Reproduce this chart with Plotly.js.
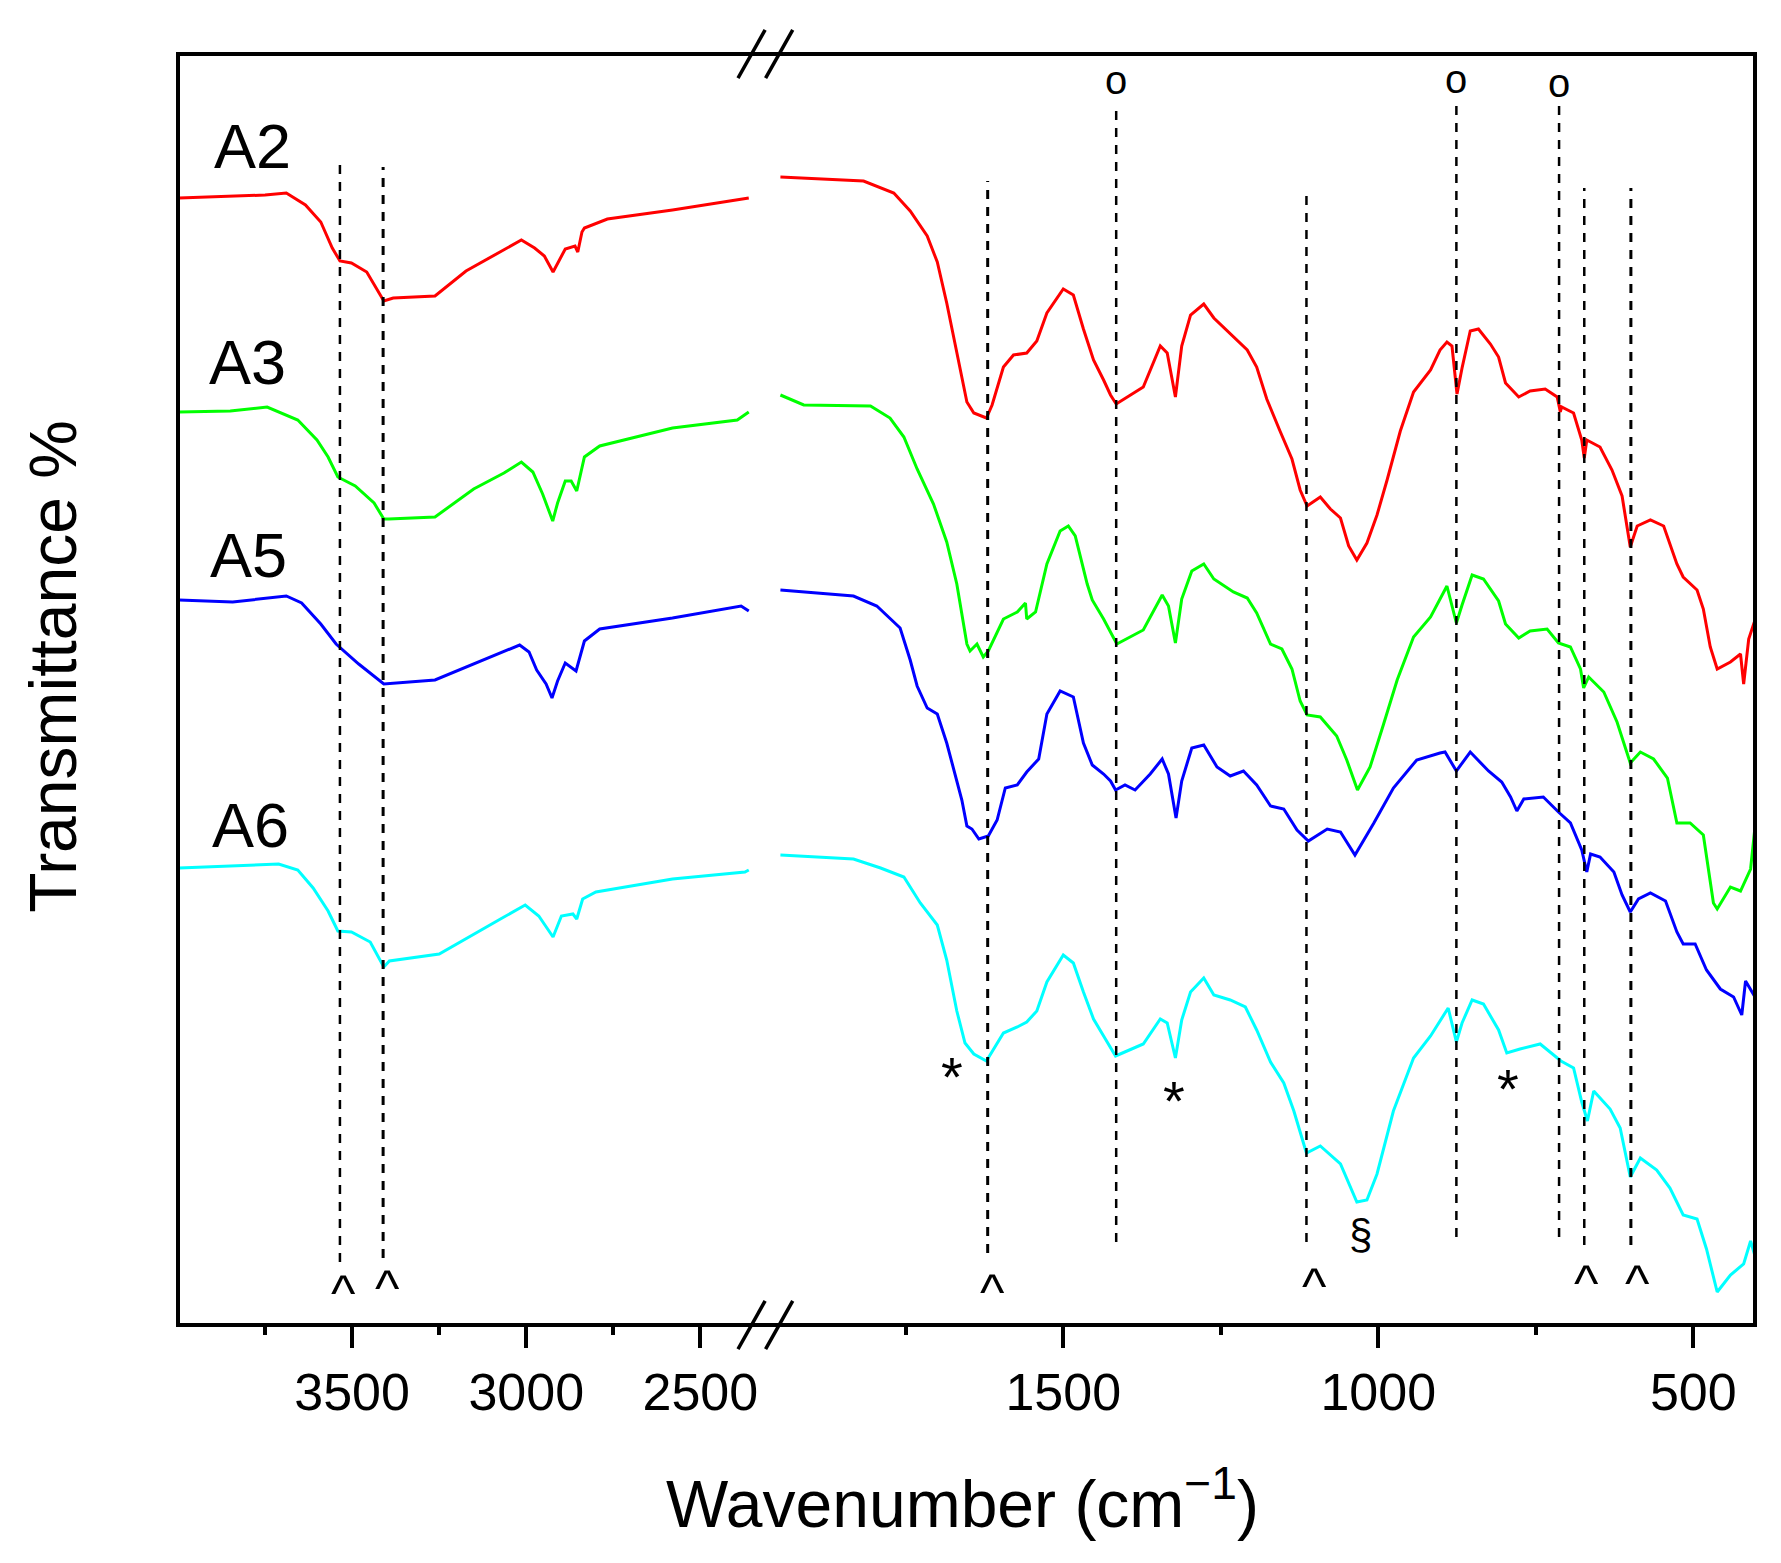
<!DOCTYPE html>
<html>
<head>
<meta charset="utf-8">
<script src="https://cdn.plot.ly/plotly-3.0.1.min.js"></script>
<style>
  body { margin: 0; background: #fff; }
  #ftir_plot { width: 1781px; height: 1563px; }
</style>
</head>
<body>
<div id="ftir_plot"></div>
<script>
// spectra, offset stacked (Transmittance %, arbitrary offset units)
let a2Wn = [3997, 3850, 3750, 3689, 3634, 3590, 3557, 3535, 3502, 3458, 3437, 3409, 3382, 3262, 3173, 3075, 3014, 2976, 2948, 2923, 2910, 2888, 2860, 2852, 2840, 2833, 2767, 2580, 2361,
    1949, 1817, 1769, 1743, 1716, 1700, 1685, 1669, 1653, 1642, 1622, 1613, 1595, 1579, 1558, 1542, 1526, 1500, 1484, 1468, 1452, 1436, 1425, 1416, 1394, 1373, 1346, 1335, 1322, 1312, 1298, 1277, 1261, 1235, 1208, 1193, 1177, 1156, 1137, 1124, 1113, 1092, 1076, 1060, 1047, 1034, 1018, 1002, 986, 965, 944, 917, 902, 891, 883, 875, 867, 854, 841, 822, 809, 798, 777, 759, 735, 716, 711, 709, 690, 677, 673, 669, 648, 629, 613, 600, 589, 568, 547, 526, 516, 494, 484, 473, 462, 441, 425, 420, 412, 402];
let a2T = [112.7, 112.9, 113.0, 113.2, 112.0, 110.3, 107.7, 106.4, 106.2, 105.3, 104.1, 102.4, 102.7, 102.9, 105.4, 107.3, 108.5, 107.7, 106.9, 105.3, 106.2, 107.6, 107.9, 107.3, 109.3, 109.7, 110.6, 111.5, 112.7,
    114.8, 114.4, 113.2, 111.4, 108.9, 106.3, 102.2, 97.1, 92.3, 91.2, 90.7, 92.0, 95.8, 97.0, 97.2, 98.4, 101.2, 103.6, 103.0, 99.6, 96.5, 94.5, 93.0, 92.1, 93.0, 93.8, 97.9, 97.2, 92.8, 97.9, 101.0, 102.1, 100.7, 99.1, 97.5, 95.8, 92.6, 89.4, 86.6, 83.5, 81.9, 82.8, 81.6, 80.7, 77.9, 76.5, 78.2, 81.0, 84.5, 89.4, 93.3, 95.5, 97.5, 98.3, 97.9, 93.1, 95.7, 99.4, 99.6, 98.1, 96.8, 94.2, 92.8, 93.4, 93.6, 92.8, 91.3, 91.8, 91.2, 88.5, 86.7, 88.5, 87.8, 85.5, 82.9, 77.8, 79.9, 80.5, 79.9, 76.1, 74.8, 73.5, 71.6, 67.8, 65.6, 66.3, 67.1, 64.1, 68.6, 70.5];

let a3Wn = [3997, 3850, 3744, 3656, 3601, 3569, 3541, 3491, 3437, 3409, 3395, 3262, 3151, 3064, 3014, 2981, 2953, 2937, 2924, 2910, 2888, 2871, 2855, 2833, 2789, 2580, 2394, 2361,
    1949, 1912, 1806, 1775, 1753, 1732, 1706, 1685, 1669, 1659, 1653, 1648, 1637, 1627, 1619, 1595, 1573, 1560, 1558, 1544, 1526, 1505, 1492, 1481, 1462, 1454, 1436, 1415, 1394, 1373, 1343, 1333, 1322, 1312, 1296, 1277, 1261, 1230, 1208, 1193, 1171, 1153, 1137, 1124, 1113, 1092, 1066, 1050, 1033, 1013, 992, 970, 944, 917, 891, 876, 867, 851, 833, 809, 798, 777, 759, 732, 714, 695, 679, 674, 666, 642, 621, 600, 584, 563, 541, 526, 505, 484, 468, 462, 441, 425, 409, 402];
let a3T = [91.3, 91.4, 91.8, 90.5, 88.5, 86.8, 84.8, 83.9, 82.2, 80.6, 80.6, 80.8, 83.6, 85.2, 86.3, 85.3, 83.1, 81.6, 80.4, 82.2, 84.4, 84.4, 83.4, 86.8, 87.9, 89.7, 90.5, 91.3,
    93.0, 92.0, 91.9, 90.7, 88.8, 85.6, 82.1, 78.3, 74.1, 70.3, 68.1, 67.4, 68.1, 66.8, 67.4, 70.6, 71.3, 72.2, 70.6, 71.3, 76.1, 79.4, 79.9, 78.9, 74.1, 72.5, 70.6, 68.1, 68.8, 69.5, 73.0, 71.9, 68.2, 72.6, 75.4, 76.1, 74.6, 73.3, 72.7, 71.2, 68.1, 67.6, 65.6, 62.4, 61.0, 60.8, 58.9, 56.5, 53.5, 55.8, 60.0, 64.5, 68.8, 70.8, 73.9, 70.2, 72.0, 75.0, 74.6, 72.4, 70.1, 68.7, 69.4, 69.6, 68.2, 67.8, 65.6, 63.7, 64.8, 63.3, 60.3, 56.2, 57.3, 56.6, 54.7, 50.2, 50.2, 49.0, 42.2, 41.6, 43.8, 43.4, 45.6, 49.8];

let a5Wn = [3997, 3843, 3689, 3645, 3590, 3546, 3481, 3409, 3262, 3151, 3019, 2992, 2970, 2943, 2926, 2910, 2888, 2857, 2833, 2789, 2580, 2383, 2361,
    1949, 1833, 1796, 1775, 1759, 1743, 1732, 1716, 1700, 1685, 1671, 1661, 1653, 1645, 1634, 1619, 1605, 1592, 1573, 1558, 1539, 1526, 1505, 1484, 1468, 1454, 1436, 1425, 1417, 1402, 1386, 1362, 1343, 1333, 1321, 1312, 1296, 1277, 1256, 1235, 1214, 1193, 1171, 1150, 1129, 1111, 1081, 1060, 1037, 1007, 976, 939, 902, 894, 876, 854, 825, 804, 790, 780, 769, 738, 714, 695, 677, 669, 663, 648, 626, 613, 600, 587, 568, 544, 526, 516, 497, 479, 457, 436, 423, 417, 402];
let a5T = [72.5, 72.3, 72.9, 72.2, 70.1, 68.1, 66.1, 64.1, 64.5, 66.1, 68.0, 67.3, 65.5, 64.1, 62.7, 64.4, 66.2, 65.4, 68.4, 69.6, 70.7, 71.9, 71.4,
    73.5, 72.9, 71.9, 70.6, 69.7, 66.5, 63.9, 61.7, 61.1, 58.2, 55.0, 52.5, 49.9, 49.6, 48.6, 48.9, 50.5, 53.7, 54.0, 55.3, 56.6, 61.1, 63.4, 62.8, 58.2, 56.0, 55.1, 54.4, 53.5, 54.0, 53.5, 55.1, 56.6, 55.1, 50.7, 54.4, 57.7, 58.0, 55.8, 54.9, 55.4, 54.0, 51.9, 51.6, 49.5, 48.4, 49.6, 49.3, 47.0, 50.2, 53.7, 56.5, 57.2, 57.3, 55.4, 57.3, 55.4, 54.3, 52.8, 51.4, 52.6, 52.8, 51.3, 50.2, 47.5, 45.3, 47.1, 46.8, 45.3, 43.0, 41.3, 42.6, 43.2, 42.4, 39.3, 38.1, 38.1, 35.5, 33.6, 32.8, 31.0, 34.4, 32.8];

let a6Wn = [3997, 3711, 3656, 3612, 3569, 3541, 3502, 3448, 3409, 3393, 3250, 3173, 3074, 3003, 2964, 2923, 2899, 2866, 2855, 2838, 2800, 2580, 2372, 2361,
    1949, 1833, 1790, 1753, 1727, 1700, 1685, 1669, 1656, 1642, 1622, 1595, 1573, 1558, 1542, 1526, 1500, 1484, 1468, 1452, 1436, 1417, 1373, 1346, 1335, 1322, 1312, 1298, 1277, 1261, 1235, 1211, 1193, 1171, 1150, 1134, 1114, 1092, 1060, 1034, 1018, 1002, 976, 944, 917, 889, 876, 867, 851, 833, 809, 796, 775, 743, 710, 690, 677, 668, 658, 632, 616, 600, 584, 558, 537, 516, 494, 479, 462, 441, 420, 409, 402];
let a6T = [45.7, 46.1, 45.5, 43.7, 41.4, 39.4, 39.3, 38.3, 35.8, 36.4, 37.1, 38.6, 40.6, 42.0, 40.9, 38.8, 40.9, 41.1, 40.6, 42.6, 43.3, 44.6, 45.3, 45.5,
    47.0, 46.6, 45.7, 44.8, 42.2, 40.0, 36.5, 31.4, 28.2, 27.1, 26.4, 29.2, 29.8, 30.3, 31.4, 34.3, 37.0, 36.2, 33.3, 30.6, 28.9, 26.9, 28.1, 30.6, 30.2, 26.7, 30.5, 33.3, 34.7, 33.0, 32.5, 31.8, 29.5, 26.3, 24.2, 21.4, 17.2, 17.9, 16.1, 12.3, 12.5, 15.1, 21.4, 26.7, 28.9, 31.7, 28.3, 30.2, 32.5, 32.1, 29.5, 27.2, 27.6, 28.1, 26.4, 25.7, 22.3, 20.4, 23.4, 21.6, 19.7, 14.8, 16.7, 15.5, 13.7, 11.0, 10.6, 7.6, 3.3, 5.0, 6.1, 8.4, 6.9];

let seriesNames = ['A2', 'A3', 'A5', 'A6'];
let seriesColors = ['#ff0000', '#00ff00', '#0000ff', '#00ffff'];
let labelWn = [3787, 3801, 3797, 3792];
let labelT = [117.9, 96.3, 77.0, 50.0];

// axis break
let leftRange = [4000, 2353];
let rightRange = [1951, 402];
let breakAt = 2100;
let leftTicks = [3500, 3000, 2500];
let leftMinor = [3750, 3250, 2750];
let rightTicks = [1500, 1000, 500];
let rightMinor = [1750, 1250, 750];

// dashed guide lines: wavenumber, top, bottom
let guideWn = [3535, 3411, 1620, 1416, 1114, 876, 713, 673, 599];
let guideTop = [116.2, 115.8, 114.4, 121.4, 113.3, 122.5, 122.2, 113.7, 113.7];
let guideBot = [6.3, 6.7, 7.2, 8.3, 8.3, 8.8, 8.8, 8.0, 8.0];
let guideWidth = [2.5, 3, 3, 2.5, 2.5, 2.5, 2.5, 2.5, 3];

// peak marks
let circleWn = [1416, 876, 713];
let circleT = [124.2, 124.3, 123.9];
let caretWn = [3526, 3399, 1613, 1102, 670, 588];
let caretT = [4.1, 4.6, 4.2, 4.8, 5.1, 5.1];
let starWn = [1676, 1324, 794];
let starT = [26.2, 23.8, 25.0];
let sectWn = [1029];
let sectT = [8.8];

const fontFam = 'Arial, "Liberation Sans", sans-serif';

function xref(wn) {
    return wn > breakAt ? 'x' : 'x2';
}

let allWn = [a2Wn, a3Wn, a5Wn, a6Wn];
let allT = [a2T, a3T, a5T, a6T];

let traces = [];
for (let s = 0; s < seriesNames.length; s++) {
    let lx = [], ly = [], rx = [], ry = [];
    for (let i = 0; i < allWn[s].length; i++) {
        if (allWn[s][i] > breakAt) {
            lx.push(allWn[s][i]); ly.push(allT[s][i]);
        } else {
            rx.push(allWn[s][i]); ry.push(allT[s][i]);
        }
    }
    traces.push({ type: 'scatter', mode: 'lines', x: lx, y: ly, xaxis: 'x', yaxis: 'y',
        name: seriesNames[s], line: { color: seriesColors[s], width: 3 }, hoverinfo: 'none' });
    traces.push({ type: 'scatter', mode: 'lines', x: rx, y: ry, xaxis: 'x2', yaxis: 'y',
        name: seriesNames[s], line: { color: seriesColors[s], width: 3 }, hoverinfo: 'none' });
}

let shapes = [];
// frame
shapes.push({ type: 'rect', xref: 'paper', yref: 'paper', x0: 0, x1: 1, y0: 0, y1: 1,
    line: { color: 'black', width: 4 } });
// break slashes, top and bottom
for (const yc of [1, 0]) {
    for (const xc of [0.3637, 0.3812]) {
        shapes.push({ type: 'line', xref: 'paper', yref: 'paper',
            x0: xc - 0.0086, x1: xc + 0.0086, y0: yc - 0.019, y1: yc + 0.019,
            line: { color: 'black', width: 3.5 } });
    }
}
for (let i = 0; i < guideWn.length; i++) {
    shapes.push({ type: 'line', xref: xref(guideWn[i]), yref: 'y',
        x0: guideWn[i], x1: guideWn[i], y0: guideBot[i], y1: guideTop[i],
        line: { color: 'black', width: guideWidth[i], dash: '9px,8px' } });
}

let annotations = [];
for (let s = 0; s < seriesNames.length; s++) {
    annotations.push({ xref: 'x', yref: 'y', x: labelWn[s], y: labelT[s], text: seriesNames[s],
        showarrow: false, font: { family: fontFam, size: 63, color: 'black' } });
}
function mark(wns, ts, txt, size, yshift) {
    for (let i = 0; i < wns.length; i++) {
        annotations.push({ xref: xref(wns[i]), yref: 'y', x: wns[i], y: ts[i], text: txt,
            showarrow: false, yshift: yshift, font: { family: fontFam, size: size, color: 'black' } });
    }
}
mark(circleWn, circleT, 'o', 40, 3);
mark(caretWn, caretT, '^', 52, -9);
mark(starWn, starT, '*', 56, -13);
mark(sectWn, sectT, '§', 42, 3);

// axis titles
annotations.push({ xref: 'paper', yref: 'paper', x: 0.4975, y: -0.137, xanchor: 'center', yanchor: 'middle',
    text: 'Wavenumber (cm<sup>−1</sup>)', showarrow: false,
    font: { family: fontFam, size: 66, color: 'black' } });
annotations.push({ xref: 'paper', yref: 'paper', x: -0.0792, y: 0.518, xanchor: 'center', yanchor: 'middle',
    textangle: -90, text: 'Transmittance %', showarrow: false,
    font: { family: fontFam, size: 66, color: 'black' } });

const xSettings = {
    showgrid: false, zeroline: false, showline: false,
    ticks: 'outside', ticklen: 22, tickwidth: 4, tickcolor: 'black',
    tickmode: 'array',
    tickfont: { family: fontFam, size: 52, color: 'black' },
    anchor: 'y', fixedrange: true
};

const layout = {
    width: 1781, height: 1563,
    margin: { l: 178, r: 26, t: 54, b: 238 },
    paper_bgcolor: 'white', plot_bgcolor: 'white',
    showlegend: false,
    xaxis: { ...xSettings, domain: [0, 0.3637], range: leftRange, tickvals: leftTicks,
        minor: { tickmode: 'array', tickvals: leftMinor, ticks: 'outside', ticklen: 9, tickwidth: 4, tickcolor: 'black' } },
    xaxis2: { ...xSettings, domain: [0.3812, 1], range: rightRange, tickvals: rightTicks,
        minor: { tickmode: 'array', tickvals: rightMinor, ticks: 'outside', ticklen: 9, tickwidth: 4, tickcolor: 'black' } },
    yaxis: { range: [0, 127.1], showgrid: false, zeroline: false, showline: false,
        showticklabels: false, ticks: '', fixedrange: true },
    shapes: shapes,
    annotations: annotations
};

Plotly.newPlot('ftir_plot', traces, layout, { displayModeBar: false, staticPlot: true });
</script>
</body>
</html>
